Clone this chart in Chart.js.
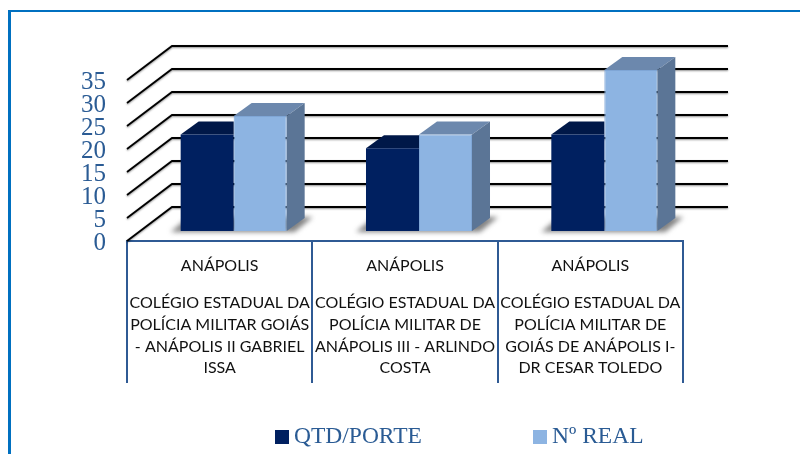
<!DOCTYPE html>
<html>
<head>
<meta charset="utf-8">
<style>
  html, body { margin: 0; padding: 0; background: #fff; overflow: hidden; }
  #frame { position: absolute; left: 8px; top: 10px; width: 792px; height: 444px; box-sizing: border-box; border-top: 2px solid #0070c0; border-left: 3px solid #0070c0; }
  #myChart { position: absolute; left: 0; top: 0; }
</style>
</head>
<body>
<div id="frame"></div>
<canvas id="myChart" width="800" height="454"></canvas>
<script src="https://cdn.jsdelivr.net/npm/chart.js@4"></script>
<script>
const cities = ["ANÁPOLIS", "ANÁPOLIS", "ANÁPOLIS"];
const schools = [
  ["COLÉGIO ESTADUAL DA", "POLÍCIA MILITAR GOIÁS", "- ANÁPOLIS II GABRIEL", "ISSA"],
  ["COLÉGIO ESTADUAL DA", "POLÍCIA MILITAR DE", "ANÁPOLIS III - ARLINDO", "COSTA"],
  ["COLÉGIO ESTADUAL DA", "POLÍCIA MILITAR DE", "GOIÁS DE ANÁPOLIS I-", "DR CESAR TOLEDO"],
];
const qtdPorte = [21, 18, 21];
const nReal = [25, 21, 35];

const blueText = "#2a5b94";
const serif = "'Liberation Serif', serif";

// fake 3d, the bars are real chart.js bars and the rest hangs off their positions
const fake3d = {
  id: "fake3d",
  beforeDatasetsDraw(chart) {
    const ctx = chart.ctx;
    const { x, y } = chart.scales;

    // back wall lines and the diagonals on the left
    ctx.save();
    ctx.strokeStyle = "#000";
    ctx.lineWidth = 1.8;
    ctx.shadowColor = "rgba(0,0,0,0.45)";
    ctx.shadowBlur = 2;
    ctx.shadowOffsetY = 1;
    y.ticks.forEach((t) => {
      const py = y.getPixelForValue(t.value);
      ctx.beginPath();
      ctx.moveTo(x.left, py);
      ctx.lineTo(x.left + 45, py - 34);
      ctx.lineTo(x.right + 45, py - 34);
      ctx.stroke();
    });
    ctx.restore();

    // floor shadows
    ctx.save();
    ctx.fillStyle = "rgba(90,90,90,0.75)";
    ctx.filter = "blur(2.5px)";
    chart.getDatasetMeta(0).data.forEach((bar, i) => {
      const light = chart.getDatasetMeta(1).data[i];
      const left = bar.x - bar.width / 2 + 14;
      const right = light.x + light.width / 2 + 14;
      const by = bar.base - 10;
      ctx.beginPath();
      ctx.moveTo(left - 10, by + 1);
      ctx.lineTo(right + 8, by + 1);
      ctx.lineTo(right + 26, by - 14);
      ctx.lineTo(left + 8, by - 14);
      ctx.closePath();
      ctx.fill();
    });
    ctx.restore();

    // bars sit a bit behind the front plane
    ctx.save();
    ctx.translate(14, -10);
  },
  beforeDatasetDraw(chart, args) {
    const ctx = chart.ctx;
    const ds = chart.data.datasets[args.index];
    args.meta.data.forEach((bar) => {
      const l = bar.x - bar.width / 2;
      const r = bar.x + bar.width / 2;
      // dark bars are drawn last, their top stops where the light bar starts
      const topRight = ds.sideColor ? r + 18 : r;
      ctx.fillStyle = ds.topColor;
      ctx.beginPath();
      ctx.moveTo(l, bar.y);
      ctx.lineTo(l + 18, bar.y - 13);
      ctx.lineTo(topRight, bar.y - 13);
      ctx.lineTo(r, bar.y);
      ctx.closePath();
      ctx.fill();
      if (!ds.sideColor) return;
      ctx.fillStyle = ds.sideColor;
      ctx.beginPath();
      ctx.moveTo(r, bar.y);
      ctx.lineTo(r + 18, bar.y - 13);
      ctx.lineTo(r + 18, bar.base - 13);
      ctx.lineTo(r, bar.base);
      ctx.closePath();
      ctx.fill();
    });
  },
  afterDatasetsDraw(chart) {
    const ctx = chart.ctx;
    ctx.restore();

    // city line above the school names
    const x = chart.scales.x;
    ctx.save();
    ctx.fillStyle = "#111";
    ctx.font = "16px Lato";
    ctx.textAlign = "center";
    ctx.textBaseline = "middle";
    cities.forEach((c, i) => ctx.fillText(c, x.getPixelForTick(i), 266));
    ctx.restore();

    // legend
    ctx.save();
    ctx.font = "23.5px " + serif;
    ctx.textBaseline = "middle";
    const legendX = [275, 533];
    chart.data.datasets.forEach((ds, i) => {
      ctx.fillStyle = ds.backgroundColor;
      ctx.fillRect(legendX[i], 430, 14, 14);
      ctx.fillStyle = blueText;
      ctx.fillText(ds.label, legendX[i] + 19, 437);
    });
    ctx.restore();
  },
};

new Chart(document.getElementById("myChart").getContext("2d"), {
  type: "bar",
  data: {
    labels: schools,
    datasets: [
      {
        label: "QTD/PORTE",
        data: qtdPorte,
        backgroundColor: "#002060",
        topColor: "#001848",
        clip: false,
      },
      {
        label: "Nº REAL",
        data: nReal,
        backgroundColor: "#8db4e2",
        borderColor: "#7fa6d6",
        borderWidth: 1,
        topColor: "#6c88ad",
        sideColor: "#5b7596",
        clip: false,
      },
    ],
  },
  options: {
    responsive: false,
    animation: false,
    layout: { padding: { left: 67, right: 117, top: 80, bottom: 71 } },
    plugins: {
      legend: { display: false },
      tooltip: { enabled: false },
    },
    datasets: { bar: { categoryPercentage: 0.572, barPercentage: 1 } },
    scales: {
      x: {
        afterFit(scale) { scale.height = 142; },
        border: { color: "#2f5a94", width: 2 },
        grid: { drawOnChartArea: false, color: "#2f5a94", lineWidth: 2, tickLength: 142 },
        ticks: {
          padding: -91,
          maxRotation: 0,
          autoSkip: false,
          color: "#111",
          font: { family: "Lato", size: 16, lineHeight: 1.36 },
        },
      },
      y: {
        min: 0,
        max: 35,
        afterFit(scale) { scale.width = 60; },
        border: { display: false },
        grid: { display: false },
        ticks: {
          stepSize: 5,
          autoSkip: false,
          padding: 13,
          labelOffset: 2,
          color: blueText,
          font: { family: serif, size: 25 },
        },
      },
    },
  },
  plugins: [fake3d],
});
</script>
</body>
</html>
